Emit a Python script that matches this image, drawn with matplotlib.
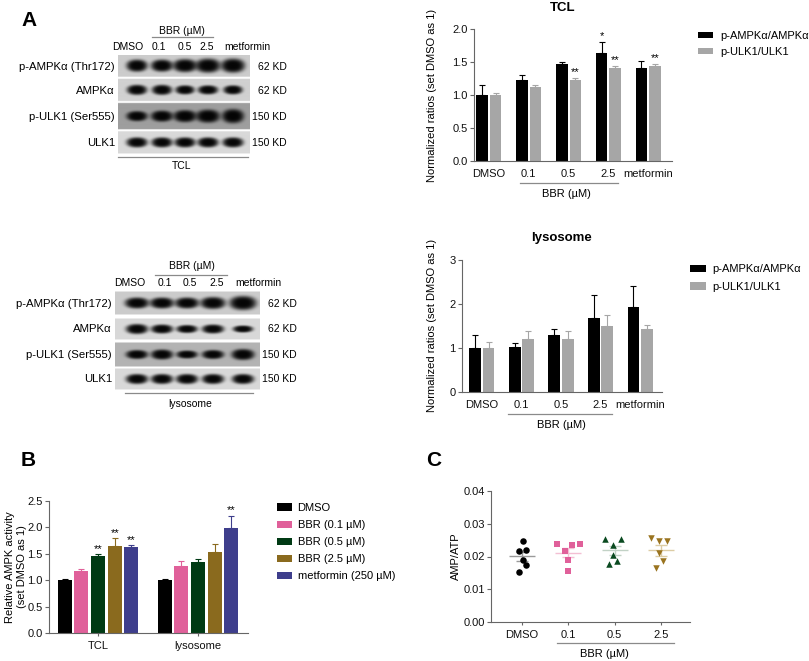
import numpy as np
import matplotlib
matplotlib.use('Agg')
import matplotlib.pyplot as plt
from matplotlib.lines import Line2D

plt.rcParams['font.family'] = ['Liberation Sans', 'DejaVu Sans']

# ---------------- data ----------------
groups_A = ['DMSO', '0.1', '0.5', '2.5', 'metformin']
series_A = ['p-AMPKα/AMPKα', 'p-ULK1/ULK1']

tcl_pampk = [1.00, 1.23, 1.47, 1.63, 1.41]
tcl_pampk_err = [0.15, 0.07, 0.03, 0.17, 0.11]
tcl_pulk = [1.00, 1.12, 1.23, 1.41, 1.44]
tcl_pulk_err = [0.03, 0.03, 0.03, 0.03, 0.03]
tcl_pampk_sig = ['', '', '', '*', '']
tcl_pulk_sig = ['', '', '**', '**', '**']

lyso_pampk = [1.00, 1.02, 1.30, 1.68, 1.94]
lyso_pampk_err = [0.29, 0.09, 0.14, 0.53, 0.46]
lyso_pulk = [1.00, 1.21, 1.20, 1.51, 1.44]
lyso_pulk_err = [0.13, 0.18, 0.19, 0.23, 0.09]

groups_B = ['TCL', 'lysosome']
series_B = ['DMSO', 'BBR (0.1 µM)', 'BBR (0.5 µM)', 'BBR (2.5 µM)', 'metformin (250 µM)']
colors_B = ['#000000', '#e0609a', '#003a14', '#8a6a1e', '#3e3e8c']
b_tcl = [1.00, 1.17, 1.46, 1.65, 1.63]
b_tcl_err = [0.03, 0.05, 0.03, 0.14, 0.03]
b_lyso = [1.00, 1.27, 1.34, 1.53, 1.98]
b_lyso_err = [0.03, 0.09, 0.07, 0.15, 0.24]
b_tcl_sig = ['', '', '**', '**', '**']
b_lyso_sig = ['', '', '', '', '**']

groups_C = ['DMSO', '0.1', '0.5', '2.5']
c_dmso = [0.0246, 0.0217, 0.0221, 0.0190, 0.0175, 0.0153]
c_bbr01 = [0.0237, 0.0217, 0.0235, 0.0237, 0.0190, 0.0156]
c_bbr05 = [0.0254, 0.0254, 0.0236, 0.0206, 0.0176, 0.0185]
c_bbr25 = [0.0256, 0.0246, 0.0247, 0.0211, 0.0185, 0.0165]
c_jitter = [
    [0.015, -0.07, 0.09, 0.015, 0.09, -0.07],
    [-0.25, -0.08, 0.086, 0.25, 0.0, 0.0],
    [-0.20, 0.137, -0.036, -0.036, -0.12, 0.05],
    [-0.216, -0.036, 0.13, -0.036, 0.043, -0.115],
]
c_colors = ['#000000', '#e0609a', '#0a4a20', '#9a7420']
c_mean_colors = ['#9a9a9a', '#f3bfd3', '#c2d2c6', '#dccca4']
c_markers = ['o', 's', '^', 'v']

# blot lanes / band sizes (px)
blot_lanes = ['DMSO', '0.1', '0.5', '2.5', 'metformin']
blot_rows = ['p-AMPKα (Thr172)', 'AMPKα', 'p-ULK1 (Ser555)', 'ULK1']
blot_kd = ['62 KD', '62 KD', '150 KD', '150 KD']
tcl_band_w = [[21, 22, 24, 25, 24], [20, 20, 19, 20, 19], [21, 22, 23, 24, 22], [21, 21, 21, 21, 21]]
tcl_band_h = [[12, 12, 13, 14, 14], [10, 10, 9, 9, 9], [10, 11, 12, 13, 14], [10, 10, 10, 10, 10]]
tcl_bg = [0.80, 0.82, 0.62, 0.85]
lyso_band_w = [[24, 24, 24, 25, 27], [22, 22, 21, 22, 20], [22, 22, 21, 22, 23], [22, 22, 22, 22, 22]]
lyso_band_h = [[11, 11, 11, 12, 14], [10, 9, 8, 9, 7], [9, 10, 8, 9, 11], [10, 10, 10, 10, 10]]
lyso_bg = [0.80, 0.85, 0.70, 0.85]

# ---------------- figure helpers ----------------
W, H = 809, 661
fig = plt.figure(figsize=(W / 100, H / 100), dpi=100)


def axpx(l, t, r, b):
    return fig.add_axes([l / W, 1 - b / H, (r - l) / W, (b - t) / H])


def ftext(x, y, s, **kw):
    kw.setdefault('va', 'center')
    fig.text(x / W, 1 - y / H, s, **kw)


def fline(x0, x1, y, color='#8a8a8a', lw=0.9):
    fig.add_artist(Line2D([x0 / W, x1 / W], [1 - y / H, 1 - y / H], color=color, lw=lw))


def style(ax, fs=8, xtick_len=2.5):
    for s in ['top', 'right']:
        ax.spines[s].set_visible(False)
    for s in ['left', 'bottom']:
        ax.spines[s].set_color('#666666')
        ax.spines[s].set_linewidth(0.8)
    ax.tick_params(axis='both', labelsize=fs, length=3, width=0.8, color='#666666', pad=1.5,
                   labelcolor='#111111')
    ax.tick_params(axis='x', length=xtick_len, pad=3 + (2.5 - xtick_len))


# ---------------- blots ----------------
def draw_blot(x0, x1, rows, lanes, widths, heights, bgs):
    ytop, ybot = rows[0][0], rows[-1][1]
    ax = axpx(x0, ytop, x1, ybot)
    s = 4
    nx = int((x1 - x0) * s)
    ny = int((ybot - ytop) * s)
    xs = x0 + (np.arange(nx) + 0.5) / s
    ys = ytop + (np.arange(ny) + 0.5) / s
    X, Y = np.meshgrid(xs, ys)
    img = np.ones_like(X)
    for i, (t, b) in enumerate(rows):
        m = (Y >= t + 0.5) & (Y <= b - 0.5)
        val = np.full_like(X, bgs[i])
        cy = (t + b) / 2
        for j, cx in enumerate(lanes):
            w = widths[i][j] / 2
            h = heights[i][j] / 2
            r = np.abs((X - cx) / w) ** 2.2 + np.abs((Y - cy) / h) ** 2.2
            band = np.exp(-r ** 2)
            val = val * (1 - 0.97 * band)
        img[m] = val[m]
    ax.imshow(img, cmap='gray', vmin=0, vmax=1, extent=(x0, x1, ybot, ytop),
              interpolation='bilinear', aspect='auto')
    ax.set_xlim(x0, x1)
    ax.set_ylim(ybot, ytop)
    ax.axis('off')


tcl_rows = [(55, 78), (79, 102), (103, 130), (131, 154)]
draw_blot(118, 250, tcl_rows, [137, 162, 185, 208, 233], tcl_band_w, tcl_band_h, tcl_bg)
lyso_rows = [(291, 315), (318, 340), (342, 367), (368, 390)]
draw_blot(115, 260, lyso_rows, [137, 162, 187, 213, 243], lyso_band_w, lyso_band_h, lyso_bg)

bfs = 7.5
rfs = 8.2
# TCL blot labels
ftext(182, 31, 'BBR (µM)', ha='center', fontsize=bfs)
fline(152, 213, 37)
for lab, x in zip(blot_lanes, [128, 159, 185, 207, 247]):
    ftext(x, 47, lab, ha='center', fontsize=bfs)
for lab, kd, (t, b) in zip(blot_rows, blot_kd, tcl_rows):
    ftext(115, (t + b) / 2 + 0.5, lab, ha='right', fontsize=rfs)
    ftext(287, (t + b) / 2 + 0.5, kd, ha='right', fontsize=bfs)
fline(118, 248, 157)
ftext(182, 166, 'TCL', ha='center', fontsize=bfs)

# lysosome blot labels
ftext(192, 266, 'BBR (µM)', ha='center', fontsize=bfs)
fline(155, 227, 275)
for lab, x in zip(blot_lanes, [130, 165, 190, 217, 258]):
    ftext(x, 283, lab, ha='center', fontsize=bfs)
for lab, kd, (t, b) in zip(blot_rows, blot_kd, lyso_rows):
    ftext(112, (t + b) / 2 + 0.5, lab, ha='right', fontsize=rfs)
    ftext(297, (t + b) / 2 + 0.5, kd, ha='right', fontsize=bfs)
fline(125, 253, 393)
ftext(190, 404, 'lysosome', ha='center', fontsize=bfs)

# panel letters
ftext(21, 20, 'A', fontsize=15, fontweight='bold', ha='left')
ftext(21, 460, 'B', fontsize=15, fontweight='bold', ha='left')
ftext(426, 460, 'C', fontsize=15, fontweight='bold', ha='left')


# ---------------- A bar charts ----------------
def sig_text(ax, xs, tops, sigs, fs=8):
    for xx, tp, sg in zip(xs, tops, sigs):
        if sg:
            ax.annotate(sg, (xx, tp), xytext=(0, 0.5), textcoords='offset points',
                        ha='center', va='bottom', fontsize=fs)


def pair_chart(rect, v1, e1, v2, e2, s1, s2, ylim, yticks, xlim, bw, off):
    ax = axpx(*rect)
    x = np.arange(len(groups_A))
    ax.bar(x - off, v1, bw, color='black', label=series_A[0], zorder=2)
    ax.bar(x + off, v2, bw, color='#a6a6a6', label=series_A[1], zorder=2)
    ax.errorbar(x - off, v1, yerr=[np.zeros(len(v1)), e1], fmt='none', ecolor='black',
                elinewidth=0.8, capsize=2.5, capthick=0.8, zorder=1)
    ax.errorbar(x + off, v2, yerr=[np.zeros(len(v2)), e2], fmt='none', ecolor='#a6a6a6',
                elinewidth=0.8, capsize=2.5, capthick=0.8, zorder=1)
    sig_text(ax, x - off, np.add(v1, e1), s1)
    sig_text(ax, x + off, np.add(v2, e2), s2)
    ax.set_xlim(*xlim)
    ax.set_ylim(*ylim)
    ax.set_yticks(yticks)
    ax.set_xticks(x)
    ax.set_xticklabels(groups_A)
    style(ax, xtick_len=0)
    return ax


ax1 = pair_chart((474, 29, 672, 161), tcl_pampk, tcl_pampk_err, tcl_pulk, tcl_pulk_err,
                 tcl_pampk_sig, tcl_pulk_sig, (0, 2.0), [0, 0.5, 1.0, 1.5, 2.0],
                 (-0.375, 4.6), 0.29, 0.17)
ax1.yaxis.set_major_formatter(matplotlib.ticker.FormatStrFormatter('%.1f'))
ax1.legend(loc='upper left', bbox_to_anchor=(698 / W, 1 - 31 / H), bbox_transform=fig.transFigure,
           frameon=False, fontsize=8, handlelength=1.35, handleheight=0.55, handletextpad=0.7,
           labelspacing=0.53, borderpad=0, borderaxespad=0)
ftext(563, 8, 'TCL', ha='center', fontsize=9.5, fontweight='bold')
ftext(432, 95, 'Normalized ratios (set DMSO as 1)', ha='center', rotation=90, fontsize=8)
fline(520, 618, 183)
ftext(566, 194, 'BBR (µM)', ha='center', fontsize=8)

ax2 = pair_chart((462, 260, 662, 392), lyso_pampk, lyso_pampk_err, lyso_pulk, lyso_pulk_err,
                 [''] * 5, [''] * 5, (0, 3), [0, 1, 2, 3], (-0.5, 4.55), 0.3, 0.17)
ax2.legend(loc='upper left', bbox_to_anchor=(690 / W, 1 - 264 / H), bbox_transform=fig.transFigure,
           frameon=False, fontsize=8, handlelength=1.45, handleheight=0.6, handletextpad=0.6,
           labelspacing=0.71, borderpad=0, borderaxespad=0)
ftext(562, 238, 'lysosome', ha='center', fontsize=9.5, fontweight='bold')
ftext(432, 325, 'Normalized ratios (set DMSO as 1)', ha='center', rotation=90, fontsize=8)
fline(508, 612, 414)
ftext(561, 425, 'BBR (µM)', ha='center', fontsize=8)

# ---------------- B ----------------
ax3 = axpx(49, 501, 248, 633)
xb = np.arange(len(groups_B))
pitch = 0.167
bwb = 0.14
for k, (name, col) in enumerate(zip(series_B, colors_B)):
    vals = [b_tcl[k], b_lyso[k]]
    errs = [b_tcl_err[k], b_lyso_err[k]]
    xx = xb + (k - 2) * pitch
    ax3.bar(xx, vals, bwb, color=col, label=name, zorder=2)
    ax3.errorbar(xx, vals, yerr=[np.zeros(2), errs], fmt='none', ecolor=col,
                 elinewidth=0.8, capsize=2.5, capthick=0.8, zorder=1)
    sig_text(ax3, xx, np.add(vals, errs), [b_tcl_sig[k], b_lyso_sig[k]])
ax3.set_xlim(-0.49, 1.5)
ax3.set_ylim(0, 2.5)
ax3.set_yticks([0, 0.5, 1.0, 1.5, 2.0, 2.5])
ax3.yaxis.set_major_formatter(matplotlib.ticker.FormatStrFormatter('%.1f'))
ax3.set_xticks(xb)
ax3.set_xticklabels(groups_B)
style(ax3)
ax3.legend(loc='upper left', bbox_to_anchor=(277 / W, 1 - 503 / H), bbox_transform=fig.transFigure,
           frameon=False, fontsize=8, handlelength=1.35, handleheight=0.63, handletextpad=0.5,
           labelspacing=0.64, borderpad=0, borderaxespad=0)
ftext(16, 567, 'Relative AMPK activity\n(set DMSO as 1)', ha='center', rotation=90, fontsize=8,
      linespacing=1.15)

# ---------------- C ----------------
ax4 = axpx(491, 491, 690, 622)
c_data = [c_dmso, c_bbr01, c_bbr05, c_bbr25]
for i, (vals, jit, col, mcol, mk) in enumerate(zip(c_data, c_jitter, c_colors, c_mean_colors, c_markers)):
    vals = np.array(vals)
    ax4.scatter(i + np.array(jit), vals, s=22, marker=mk, color=col, zorder=3, linewidths=0)
    m = vals.mean()
    se = vals.std(ddof=1) / np.sqrt(len(vals))
    ax4.hlines(m, i - 0.28, i + 0.28, color=mcol, lw=1.0, zorder=2)
    ax4.hlines([m - se, m + se], i - 0.13, i + 0.13, color=mcol, lw=1.0, zorder=2)
    ax4.vlines(i, m - se, m + se, color=mcol, lw=1.0, zorder=2)
ax4.set_xlim(-0.67, 3.63)
ax4.set_ylim(0, 0.04)
ax4.set_yticks([0, 0.01, 0.02, 0.03, 0.04])
ax4.yaxis.set_major_formatter(matplotlib.ticker.FormatStrFormatter('%.2f'))
ax4.set_xticks(np.arange(len(groups_C)))
ax4.set_xticklabels(groups_C)
style(ax4)
ftext(456, 556, 'AMP/ATP', ha='center', rotation=90, fontsize=8)
fline(557, 674, 643)
ftext(604, 654, 'BBR (µM)', ha='center', fontsize=8)

fig.savefig('out.png', dpi=100)
